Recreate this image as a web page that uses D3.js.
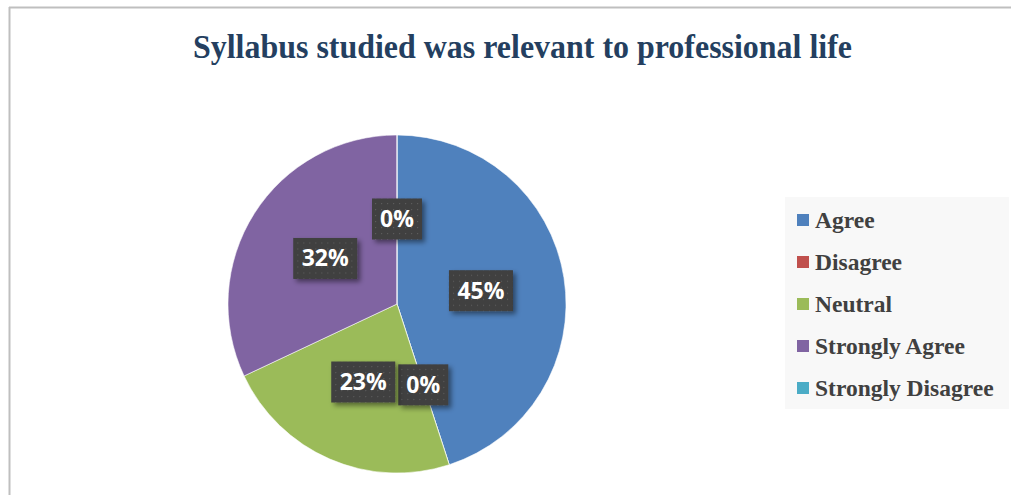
<!DOCTYPE html>
<html><head><meta charset="utf-8">
<script src="https://cdn.jsdelivr.net/npm/d3@7/dist/d3.min.js"></script>
<style>body{margin:0;background:#fff;}svg{display:block;}</style>
</head><body>
<svg id="chart" width="1011" height="495"></svg>
<script>
const categories = ["Agree", "Disagree", "Neutral", "Strongly Agree", "Strongly Disagree"];
const values = [45, 0, 23, 32, 0];
const labels = ["45%", "0%", "23%", "32%", "0%"];
const colors = ["#4f81bd", "#c0504d", "#9bbb59", "#8064a2", "#4bacc6"];
const title = "Syllabus studied was relevant to professional life";

const svg = d3.select("#chart");
const defs = svg.append("defs");
const pat = defs.append("pattern").attr("id","dots").attr("width",6).attr("height",6).attr("patternUnits","userSpaceOnUse");
pat.append("rect").attr("width",6).attr("height",6).attr("fill","#3f3f3f");
pat.append("rect").attr("x",2).attr("y",2).attr("width",1.2).attr("height",1.2).attr("fill","#5c5c5c");
const f = defs.append("filter").attr("id","sh").attr("x","-30%").attr("y","-30%").attr("width","160%").attr("height","160%");
f.append("feDropShadow").attr("dx",3).attr("dy",3).attr("stdDeviation",2.5).attr("flood-color","#000").attr("flood-opacity",0.45);

// frame
svg.append("line").attr("x1",9.5).attr("x2",9.5).attr("y1",7).attr("y2",495).attr("stroke","#bfbfbf").attr("stroke-width",2);
svg.append("line").attr("x1",9).attr("x2",1011).attr("y1",7.5).attr("y2",7.5).attr("stroke","#bfbfbf").attr("stroke-width",2);

// title
svg.append("text").attr("x",193).attr("y",58)
  .attr("textLength",659).attr("lengthAdjust","spacingAndGlyphs")
  .style("font-family","'Liberation Serif','Times New Roman',serif").style("font-weight","bold")
  .style("font-size","34px").attr("fill","#243f60").text(title);

// pie
const cx = 397, cy = 304, r = 169;
const pie = d3.pie().sort(null).value(d => d);
const arcs = pie(values);
const arc = d3.arc().innerRadius(0).outerRadius(r);
const g = svg.append("g").attr("transform",`translate(${cx},${cy})`);
g.selectAll("path").data(arcs).join("path")
  .attr("d",arc).attr("fill",(d,i)=>colors[i])
  .attr("stroke","#fff").attr("stroke-width",0.8).attr("stroke-opacity",0.7);

const labelArc = d3.arc().innerRadius(r*0.503).outerRadius(r*0.503);
const lg = g.selectAll("g.lbl").data(arcs).join("g").attr("class","lbl")
  .attr("transform",d=>{const c=labelArc.centroid(d);return `translate(${c[0]},${c[1]})`;});
lg.each(function(d,i){
  const el = d3.select(this);
  const w = labels[i].length > 2 ? 64 : 50, h = 41;
  el.append("rect").attr("x",-w/2).attr("y",-h/2).attr("width",w).attr("height",h)
    .attr("fill","url(#dots)").attr("filter","url(#sh)");
  el.append("text").attr("text-anchor","middle").attr("y",8)
    .style("font-family","'Open Sans',sans-serif").style("font-weight","bold").style("font-size","23px")
    .attr("fill","#fff").text(labels[i]);
});

// legend
svg.append("rect").attr("x",785).attr("y",197).attr("width",224).attr("height",212).attr("fill","#f8f8f8");
const y = d3.scalePoint().domain(categories).range([220,388]);
const leg = svg.selectAll("g.leg").data(categories).join("g").attr("class","leg")
  .attr("transform",d=>`translate(797,${y(d)})`);
leg.append("rect").attr("x",0).attr("y",-6).attr("width",12).attr("height",12).attr("fill",(d,i)=>colors[i]);
leg.append("text").attr("x",18).attr("y",8)
  .style("font-family","'Liberation Serif','Times New Roman',serif").style("font-weight","bold").style("font-size","23.5px")
  .attr("fill","#404040").text(d=>d);
</script>
</body></html>
